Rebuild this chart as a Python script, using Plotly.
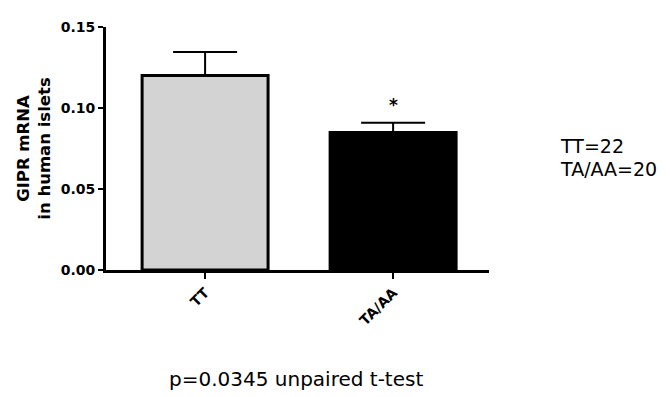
import plotly.graph_objects as go

categories = ["TT", "TA/AA"]
means = [0.120, 0.0849]
sem = [0.0145, 0.0060]
fill_colors = ["#d3d3d3", "#000000"]
y_ticks = [0.00, 0.05, 0.10, 0.15]
y_tick_labels = ["0.00", "0.05", "0.10", "0.15"]
n_labels = ["TT=22", "TA/AA=20"]

FONT = "DejaVu Sans"

fig = go.Figure()
fig.add_trace(go.Bar(
    x=categories, y=means, width=0.67,
    marker=dict(color=fill_colors, line=dict(color="black", width=3)),
    error_y=dict(type="data", array=sem, arrayminus=[0, 0], symmetric=False,
                 color="black", thickness=2, width=32),
    showlegend=False,
))

fig.add_annotation(x="TA/AA", y=means[1] + sem[1], yref="y", text="<b>*</b>",
                   showarrow=False, yshift=18, font=dict(size=17, color="black", family=FONT))
fig.add_annotation(xref="paper", yref="paper", x=1.18, y=(262 - 133.5) / 251,
                   xanchor="left", yanchor="middle", text=n_labels[0], showarrow=False,
                   font=dict(size=19, color="black", family=FONT))
fig.add_annotation(xref="paper", yref="paper", x=1.18, y=(262 - 158) / 251,
                   xanchor="left", yanchor="middle", text=n_labels[1], showarrow=False,
                   font=dict(size=19, color="black", family=FONT))
fig.add_annotation(xref="paper", yref="paper", x=0.497, y=-0.45, xanchor="center", yanchor="middle",
                   text="p=0.0345 unpaired t-test", showarrow=False,
                   font=dict(size=20, color="black", family=FONT))

fig.update_layout(
    width=662, height=389,
    margin=dict(l=98, r=181, t=11, b=127),
    plot_bgcolor="white", paper_bgcolor="white",
    font=dict(family=FONT, color="black"),
)
fig.update_xaxes(range=[-0.527, 1.51], showline=True, linecolor="black", linewidth=3,
                 ticks="outside", ticklen=6, tickwidth=2, tickcolor="black",
                 tickangle=-45, tickfont=dict(size=14, family=FONT),
                 showgrid=False, zeroline=False,
                 tickvals=categories, ticktext=["<b>%s</b>" % c for c in categories])
fig.update_yaxes(range=[0, 0.15], showline=True, linecolor="black", linewidth=3,
                 ticks="outside", ticklen=5, tickwidth=2, tickcolor="black",
                 tickvals=y_ticks, ticktext=["<b>%s</b>" % t for t in y_tick_labels],
                 tickfont=dict(size=14, family=FONT), showgrid=False, zeroline=False,
                 title=dict(text="<b>GIPR mRNA<br>in human islets</b>",
                            font=dict(size=16.5, family=FONT), standoff=6))

fig.write_html("out.html")
